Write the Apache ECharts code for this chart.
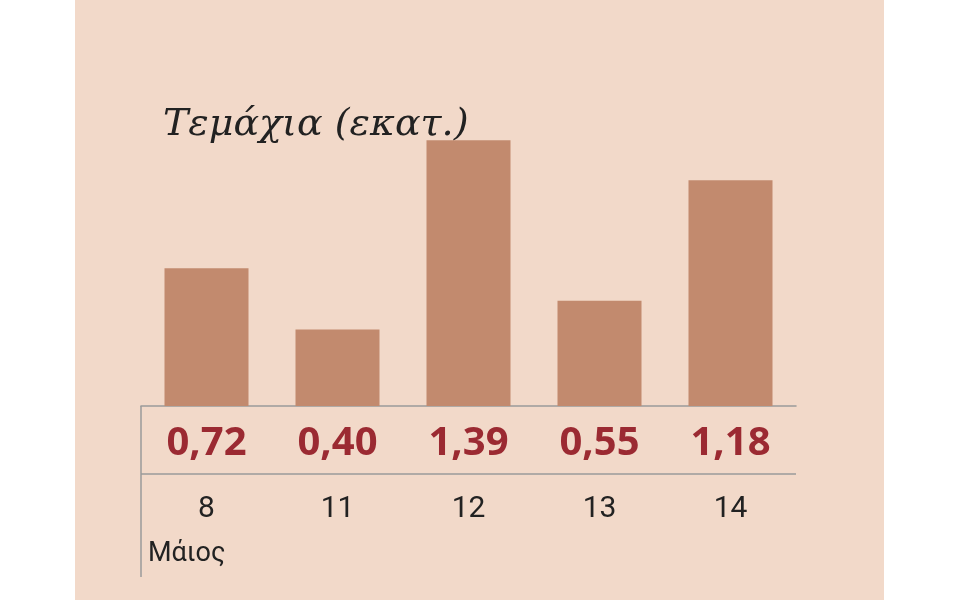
<!DOCTYPE html>
<html><head><meta charset="utf-8">
<script src="https://cdn.jsdelivr.net/npm/echarts@6/dist/echarts.min.js"></script>
<style>html,body{margin:0;background:#fff}#chart{width:960px;height:600px}</style>
</head><body><div id="chart"></div>
<script>
const days = ['8', '11', '12', '13', '14'];
const values = [0.72, 0.40, 1.39, 0.55, 1.18];
const valueLabels = ['0,72', '0,40', '1,39', '0,55', '1,18'];

const chart = echarts.init(document.getElementById('chart'));
const lineColor = '#9a9a9a';
chart.setOption({
  backgroundColor: '#ffffff',
  animation: false,
  grid: { left: 141, width: 655, top: 100, bottom: 194 },
  xAxis: [
    { type: 'category', data: valueLabels, position: 'bottom',
      axisLine: { lineStyle: { color: lineColor, width: 1.5 } },
      axisTick: { length: 117, lineStyle: { color: lineColor, width: 1.5 } },
      axisLabel: { margin: 18, fontSize: 40, fontWeight: 'bold', color: '#9b2a32', fontFamily: 'Open Sans' } },
    { type: 'category', data: days, position: 'bottom',
      axisLine: { show: false }, axisTick: { show: false },
      axisLabel: { margin: 88, fontSize: 30, color: '#222', fontFamily: 'Roboto' } }
  ],
  yAxis: { type: 'value', min: 0, max: 1.6, show: false },
  series: [{ type: 'bar', data: values, barWidth: 84, xAxisIndex: 0,
    itemStyle: { color: '#c28a6e' } }],
  graphic: [
    { type: 'rect', z: -10, shape: { x: 75, y: 0, width: 809, height: 600 }, style: { fill: '#f2d9c9' } },
    { type: 'line', shape: { x1: 141, y1: 474, x2: 796, y2: 474 }, style: { stroke: lineColor, lineWidth: 1.5 } },
    { type: 'line', shape: { x1: 141, y1: 406, x2: 141, y2: 577 }, style: { stroke: lineColor, lineWidth: 1.5 } },
    { type: 'text', left: 148, top: 541, style: { text: 'Μάιος', fontSize: 27, fill: '#222', fontFamily: 'Roboto' } },
    { type: 'text', left: 163, top: 106, style: { text: 'Τεμάχια (εκατ.)', fontSize: 38, fontStyle: 'italic', fill: '#222', fontFamily: 'DejaVu Serif' } }
  ]
});
</script></body></html>
